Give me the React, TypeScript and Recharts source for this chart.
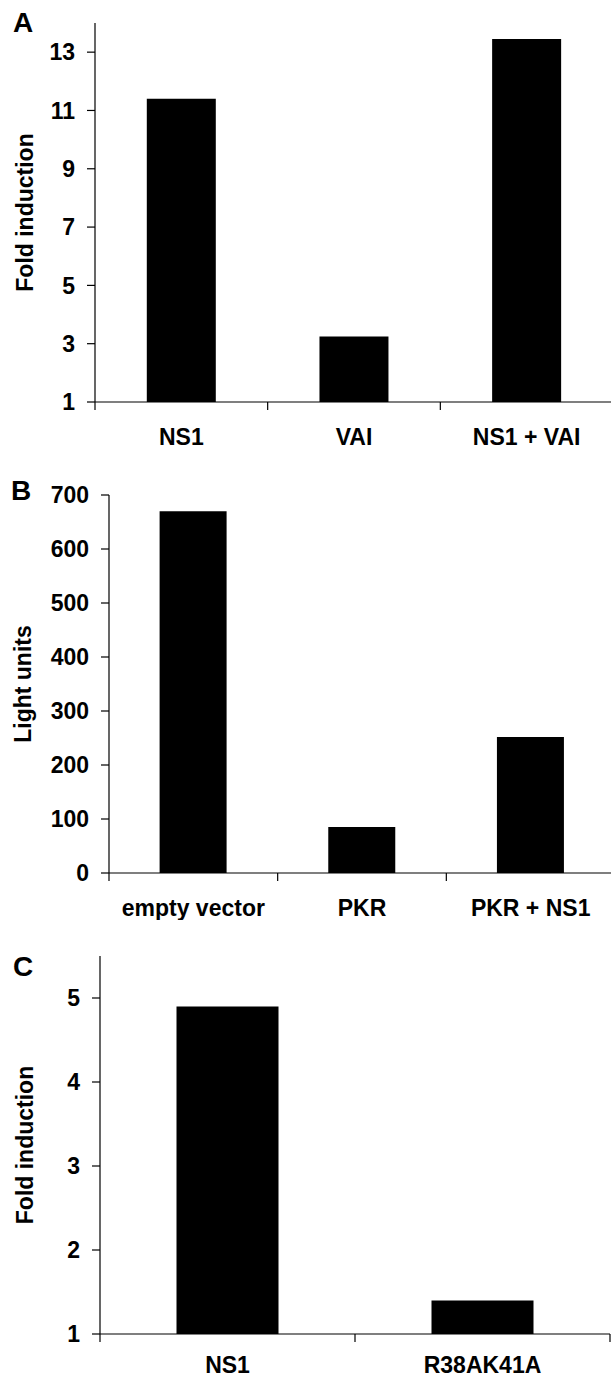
import React from 'react';
import { BarChart, Bar, XAxis, YAxis } from 'recharts';

const FONT = '"Liberation Sans", Arial, Helvetica, sans-serif';

// Panel A
const catsA = ['NS1', 'VAI', 'NS1 + VAI'];
const valsA = [11.4, 3.25, 13.45];
const ticksA = [1, 3, 5, 7, 9, 11, 13];

// Panel B
const catsB = ['empty vector', 'PKR', 'PKR + NS1'];
const valsB = [670, 85, 252];
const ticksB = [0, 100, 200, 300, 400, 500, 600, 700];

// Panel C
const catsC = ['NS1', 'R38AK41A'];
const valsC = [4.9, 1.4];
const ticksC = [1, 2, 3, 4, 5];

const TICK_SIZE = 8;

const makeCatTick = (xMargin: number) => (props: any) => {
  const { x, y, payload, index, visibleTicksCount, width } = props;
  const bw = width / visibleTicksCount;
  const axisY = y - TICK_SIZE - xMargin;
  return (
    <g>
      {index === 0 && (
        <line x1={x - bw / 2} x2={x - bw / 2} y1={axisY} y2={axisY + TICK_SIZE} stroke="#000" strokeWidth={1.2} />
      )}
      <line x1={x + bw / 2} x2={x + bw / 2} y1={axisY} y2={axisY + TICK_SIZE} stroke="#000" strokeWidth={1.2} />
      <text x={x} y={y} dy="0.71em" textAnchor="middle" fill="#000" fontSize={23} fontWeight="bold" fontFamily={FONT}>
        {payload.value}
      </text>
    </g>
  );
};

const makeYLabel = (text: string, baseX: number) => (props: any) => {
  const vb = props.viewBox || {};
  const cy = vb.y + vb.height / 2;
  const x = (vb.x || 0) + baseX;
  return (
    <text
      x={x}
      y={cy}
      transform={`rotate(-90, ${x}, ${cy})`}
      textAnchor="middle"
      fill="#000"
      fontSize={23}
      fontWeight="bold"
      fontFamily={FONT}
    >
      {text}
    </text>
  );
};

type PanelProps = {
  cats: string[];
  vals: number[];
  ticks: number[];
  domain: [number, number];
  yLabel: string;
  labelX: number;
  top: number;
  width: number;
  yWidth: number;
  xMargin: number;
  margin: { top: number; right: number; bottom: number; left: number };
};

const Panel = ({ cats, vals, ticks, domain, yLabel, labelX, top, width, yWidth, xMargin, margin }: PanelProps) => {
  const data = cats.map((c, i) => ({ name: c, value: vals[i] }));
  const Tick = makeCatTick(xMargin);
  return (
    <div style={{ position: 'absolute', left: 0, top, width, height: 460 }}>
      <BarChart width={width} height={460} data={data} margin={margin} barCategoryGap="30%">
        <XAxis
          dataKey="name"
          type="category"
          height={40}
          axisLine={{ stroke: '#000', strokeWidth: 1.2 }}
          tickLine={false}
          tickSize={TICK_SIZE}
          tickMargin={xMargin}
          tick={<Tick />}
          interval={0}
        />
        <YAxis
          type="number"
          domain={domain}
          ticks={ticks}
          width={yWidth}
          allowDataOverflow
          axisLine={{ stroke: '#000', strokeWidth: 1.2 }}
          tickLine={{ stroke: '#000', strokeWidth: 1.2 }}
          tickSize={TICK_SIZE}
          tickMargin={12}
          tick={{ fill: '#000', fontSize: 23, fontWeight: 'bold', fontFamily: FONT }}
          label={{ content: makeYLabel(yLabel, labelX) } as any}
        />
        <Bar dataKey="value" fill="#000" isAnimationActive={false} />
      </BarChart>
    </div>
  );
};

export default function App() {
  return (
    <div
      style={{
        position: 'absolute',
        left: 0,
        top: 0,
        width: 611,
        height: 1380,
        overflow: 'hidden',
        background: '#fff',
      }}
    >
      <Panel
        cats={catsA}
        vals={valsA}
        ticks={ticksA}
        domain={[1, 14]}
        yLabel="Fold induction"
        labelX={33}
        top={0}
        width={620}
        yWidth={95}
        xMargin={19}
        margin={{ top: 23, right: 7, bottom: 18, left: 0 }}
      />
      <Panel
        cats={catsB}
        vals={valsB}
        ticks={ticksB}
        domain={[0, 700]}
        yLabel="Light units"
        labelX={31}
        top={460}
        width={620}
        yWidth={109}
        xMargin={19}
        margin={{ top: 35, right: 5, bottom: 7, left: 0 }}
      />
      <Panel
        cats={catsC}
        vals={valsC}
        ticks={ticksC}
        domain={[1, 5.5]}
        yLabel="Fold induction"
        labelX={33}
        top={920}
        width={611}
        yWidth={100}
        xMargin={15}
        margin={{ top: 36, right: 1, bottom: 6, left: 0 }}
      />
      <svg width={611} height={1380} style={{ position: 'absolute', left: 0, top: 0, pointerEvents: 'none' }}>
        <text x={13} y={32} fontSize={28} fontWeight="bold" fontFamily={FONT} fill="#000">A</text>
        <text x={11} y={500} fontSize={28} fontWeight="bold" fontFamily={FONT} fill="#000">B</text>
        <text x={13} y={976} fontSize={28} fontWeight="bold" fontFamily={FONT} fill="#000">C</text>
      </svg>
    </div>
  );
}
